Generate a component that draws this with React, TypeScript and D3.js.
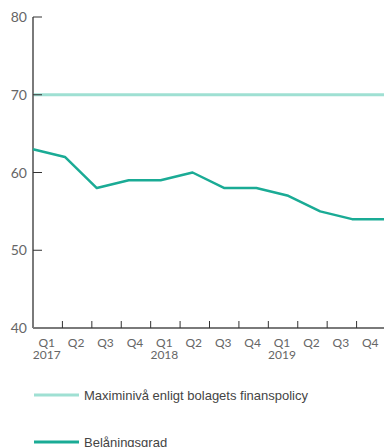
import React from "react";
import * as d3 from "d3";

const quarters = ["Q1", "Q2", "Q3", "Q4", "Q1", "Q2", "Q3", "Q4", "Q1", "Q2", "Q3", "Q4"];
const years = ["2017", "", "", "", "2018", "", "", "", "2019", "", "", ""];
const ltv = [63, 62, 58, 59, 59, 60, 58, 58, 57, 55, 54, 54];
const maxLevel = 70;
const yTicks = [40, 50, 60, 70, 80];
const legendLabels = ["Maximinivå enligt bolagets finanspolicy", "Belåningsgrad"];

const W = 384;
const H = 447;
const left = 33;
const right = 384;
const top = 17;
const bottom = 328;
const font = "Lato, 'Open Sans', sans-serif";
const legendFont = "'Liberation Sans', Arial, sans-serif";
const maxColor = "#9fe0d3";
const lineColor = "#1aab95";

export default function App() {
  const idx = ltv.map((_, i) => i);
  const y = d3.scaleLinear().domain([40, 80]).range([bottom, top]);
  const xp = d3.scalePoint<number>().domain(idx).range([left, right]);
  const xb = d3.scaleBand<number>().domain(idx).range([left, 386]);
  const line = d3
    .line<number>()
    .x((_, i) => xp(i)!)
    .y((d) => y(d));

  return (
    <svg
      width={W}
      height={H}
      style={{ position: "absolute", left: 0, top: 0 }}
      fontFamily={font}
    >
      <line x1={left} x2={right} y1={y(maxLevel)} y2={y(maxLevel)} stroke={maxColor} strokeWidth={3} />
      <line x1={left} x2={left} y1={top} y2={bottom} stroke="#7a7a7a" strokeWidth={2} />
      {yTicks.map((t) => (
        <g key={t}>
          <line x1={left} x2={left + 9} y1={y(t)} y2={y(t)} stroke="#333" strokeWidth={1} />
          <text x={27} y={y(t)} dy="0.36em" textAnchor="end" fontSize={14} fill="#666">
            {t}
          </text>
        </g>
      ))}
      <line x1={left} x2={right} y1={bottom} y2={bottom} stroke="#7a7a7a" strokeWidth={2} />
      {idx.slice(1).map((i) => (
        <line key={i} x1={xb(i)!} x2={xb(i)!} y1={bottom - 7} y2={bottom} stroke="#333" strokeWidth={1} />
      ))}
      {idx.map((i) => {
        const cx = xb(i)! + xb.bandwidth() / 2 - 1;
        return (
          <text key={i} x={cx} y={346.5} textAnchor="middle" fontSize={12} fill="#666">
            <tspan x={cx}>{quarters[i]}</tspan>
            {years[i] && (
              <tspan x={cx} dy={12}>
                {years[i]}
              </tspan>
            )}
          </text>
        );
      })}
      <path d={line(ltv)!} fill="none" stroke={lineColor} strokeWidth={2.5} strokeLinejoin="round" />
      {legendLabels.map((lab, i) => {
        const ly = i === 0 ? 395 : 442;
        return (
          <g key={lab}>
            <line x1={34} x2={79} y1={ly} y2={ly} stroke={i === 0 ? maxColor : lineColor} strokeWidth={3} />
            <text x={84} y={ly} dy="0.36em" fontSize={13} fill="#444" fontFamily={legendFont}>
              {lab}
            </text>
          </g>
        );
      })}
    </svg>
  );
}
